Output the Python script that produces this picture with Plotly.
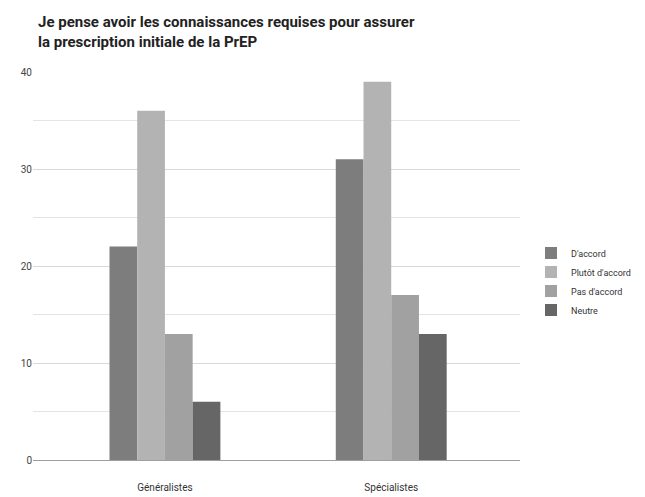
import plotly.graph_objects as go

# Survey answers per respondent group
groups = ["Généralistes", "Spécialistes"]
answers = ["D'accord", "Plutôt d'accord", "Pas d'accord", "Neutre"]
values = {
    "D'accord": [22, 31],
    "Plutôt d'accord": [36, 39],
    "Pas d'accord": [13, 17],
    "Neutre": [6, 13],
}
bar_colors = ["#7d7d7d", "#b3b3b3", "#a1a1a1", "#666666"]
y_ticks = [0, 10, 20, 30, 40]

fig = go.Figure()
for name, color in zip(answers, bar_colors):
    fig.add_trace(go.Bar(
        x=groups,
        y=values[name],
        name=name,
        marker=dict(color=color, line=dict(width=0)),
    ))

fig.update_layout(
    width=645,
    height=497,
    paper_bgcolor="white",
    plot_bgcolor="white",
    font=dict(family="Roboto, Arial, sans-serif", size=10, color="#444444"),
    barmode="group",
    bargap=0.51,
    bargroupgap=0,
    margin=dict(l=33, r=125, t=72, b=37),
    title=dict(
        text="Je pense avoir les connaissances requises pour assurer<br>la prescription initiale de la PrEP",
        x=38 / 645,
        xanchor="left",
        xref="container",
        y=1 - 27 / 497,
        yanchor="top",
        yref="container",
        font=dict(family="Roboto, Arial, sans-serif", size=15, color="#222222", weight="bold"),
    ),
    legend=dict(
        x=531 / 645,
        xref="container",
        xanchor="left",
        y=0.46,
        yanchor="middle",
        font=dict(size=9, color="#333333"),
        tracegroupgap=0,
        itemsizing="constant",
    ),
    xaxis=dict(
        range=[-0.583, 1.569],
        automargin=False,
        showgrid=False,
        showline=True,
        linecolor="#9e9e9e",
        linewidth=1,
        ticks="",
        ticklabelstandoff=18,
        tickfont=dict(size=10, color="#333333"),
    ),
    yaxis=dict(
        range=[0, 40],
        automargin=False,
        tickvals=y_ticks,
        showgrid=True,
        gridcolor="#d9d9d9",
        gridwidth=1,
        minor=dict(dtick=5, showgrid=True, gridcolor="#e4e4e4", gridwidth=1),
        zeroline=False,
        showline=False,
        ticks="",
        tickfont=dict(size=10, color="#444444"),
    ),
)

fig.write_html("out.html")
